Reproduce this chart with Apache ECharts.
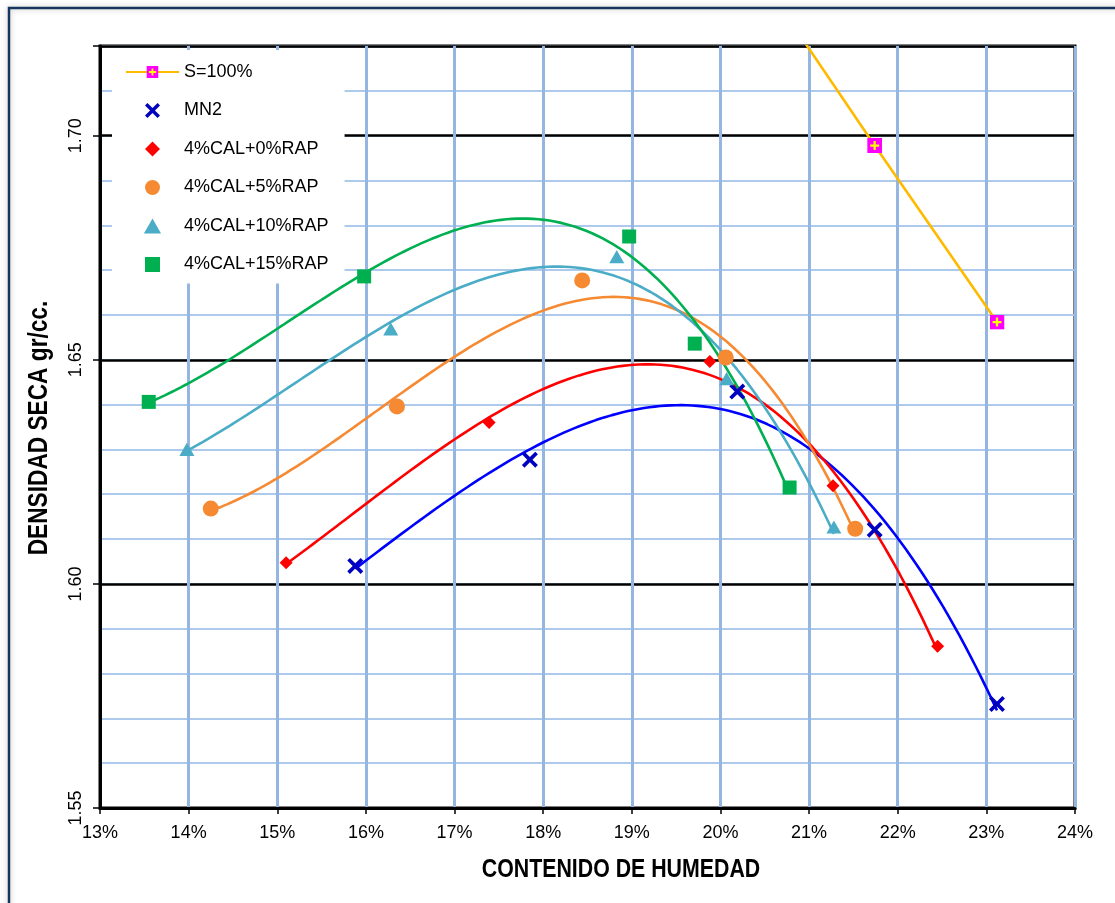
<!DOCTYPE html>
<html>
<head>
<meta charset="utf-8">
<title>Densidad seca vs contenido de humedad</title>
<script src="https://cdn.jsdelivr.net/npm/echarts@6/dist/echarts.min.js"></script>
<style>
  html, body { margin: 0; padding: 0; background: #ffffff; }
  #chart { width: 1115px; height: 903px; }
</style>
</head>
<body>
<div id="chart"></div>
<script>
// Moisture content (%) and dry density (gr/cc) for each mix
const sat100W = [20.19, 21.74, 23.12];
const sat100D = [1.743, 1.6978, 1.6584];

const mn2W = [15.88, 17.85, 20.19, 21.74, 23.12];
const mn2D = [1.6040, 1.6277, 1.6429, 1.6121, 1.5732];

const cal0W = [15.10, 17.39, 19.88, 21.27, 22.45];
const cal0D = [1.6047, 1.6360, 1.6496, 1.6219, 1.5861];

const cal5W = [14.25, 16.35, 18.44, 20.06, 21.52];
const cal5D = [1.6168, 1.6396, 1.6677, 1.6505, 1.6123];

const cal10W = [13.98, 16.28, 18.83, 20.07, 21.28];
const cal10D = [1.6300, 1.6569, 1.6730, 1.6458, 1.6127];

const cal15W = [13.55, 15.98, 18.97, 19.71, 20.78];
const cal15D = [1.6406, 1.6686, 1.6775, 1.6536, 1.6215];

const seriesNames = ['S=100%', 'MN2', '4%CAL+0%RAP', '4%CAL+5%RAP', '4%CAL+10%RAP', '4%CAL+15%RAP'];
const xTitle = 'CONTENIDO DE HUMEDAD';
const yTitle = 'DENSIDAD SECA gr/cc.';
const xTicks = { min: 13, max: 24, step: 1 };
const yTicks = { min: 1.55, max: 1.72, major: 0.05, minor: 0.01 };

// Least-squares polynomial trendline (order 3) through a set of points
function polyFit(xs, ys, order) {
  const n = order + 1;
  const xm = xs.reduce((a, b) => a + b, 0) / xs.length;
  const A = [];
  for (let i = 0; i < n; i++) { A.push(new Array(n + 1).fill(0)); }
  for (let k = 0; k < xs.length; k++) {
    const t = xs[k] - xm;
    for (let i = 0; i < n; i++) {
      for (let j = 0; j < n; j++) A[i][j] += Math.pow(t, i + j);
      A[i][n] += ys[k] * Math.pow(t, i);
    }
  }
  for (let c = 0; c < n; c++) {
    let p = c;
    for (let r = c + 1; r < n; r++) if (Math.abs(A[r][c]) > Math.abs(A[p][c])) p = r;
    [A[c], A[p]] = [A[p], A[c]];
    for (let r = 0; r < n; r++) {
      if (r === c) continue;
      const f = A[r][c] / A[c][c];
      for (let j = c; j <= n; j++) A[r][j] -= f * A[c][j];
    }
  }
  const coef = A.map((row, i) => row[n] / row[i]);
  return (x) => coef.reduce((s, a, i) => s + a * Math.pow(x - xm, i), 0);
}

function trendPoints(xs, ys) {
  const f = polyFit(xs, ys, 3);
  const lo = Math.min(...xs), hi = Math.max(...xs);
  const pts = [];
  const steps = 120;
  for (let i = 0; i <= steps; i++) {
    const x = lo + (hi - lo) * i / steps;
    pts.push([x, f(x)]);
  }
  return pts;
}

const pairs = (xs, ys) => xs.map((x, i) => [x, ys[i]]);

const SANS = "'Liberation Sans', Arial, sans-serif";

const satSymbol = 'image://data:image/svg+xml;utf8,' + encodeURIComponent(
  "<svg xmlns='http://www.w3.org/2000/svg' width='16' height='16'>" +
  "<rect width='16' height='16' fill='#ff00ff'/>" +
  "<path d='M8 3.2V12.8M3.2 8H12.8' stroke='#ffff00' stroke-width='2.4'/></svg>");
const crossSymbol = 'path://M2.6,0 L8,5.4 L13.4,0 L16,2.6 L10.6,8 L16,13.4 L13.4,16 L8,10.6 L2.6,16 L0,13.4 L5.4,8 L0,2.6 Z';
const diamondSymbol = 'path://M8,0 L16,8 L8,16 L0,8 Z';
const triangleSymbol = 'path://M8,0 L16,14 L0,14 Z';
const squareSymbol = 'path://M0,0 L16,0 L16,16 L0,16 Z';

const mixes = [
  { name: seriesNames[1], xs: mn2W, ys: mn2D, line: '#0000ff', mark: '#0000c0', symbol: crossSymbol, size: 16 },
  { name: seriesNames[2], xs: cal0W, ys: cal0D, line: '#ff0000', mark: '#ff0000', symbol: diamondSymbol, size: 13 },
  { name: seriesNames[3], xs: cal5W, ys: cal5D, line: '#f68a33', mark: '#f68a33', symbol: 'circle', size: 16 },
  { name: seriesNames[4], xs: cal10W, ys: cal10D, line: '#4aacc6', mark: '#4aacc6', symbol: triangleSymbol, size: 15 },
  { name: seriesNames[5], xs: cal15W, ys: cal15D, line: '#00b050', mark: '#00b050', symbol: squareSymbol, size: 14 }
];

const series = [];
mixes.forEach((m) => {
  series.push({
    name: m.name + ' (tendencia)',
    type: 'line',
    data: trendPoints(m.xs, m.ys),
    showSymbol: false,
    lineStyle: { color: m.line, width: 2.6 },
    z: 3,
    silent: true
  });
});
series.push({
  name: seriesNames[0],
  type: 'line',
  data: pairs(sat100W, sat100D),
  symbol: satSymbol,
  symbolSize: 15,
  showAllSymbol: true,
  lineStyle: { color: '#ffba00', width: 2.6 },
  itemStyle: { color: '#ffba00' },
  clip: true,
  z: 4
});
mixes.forEach((m) => {
  series.push({
    name: m.name,
    type: 'scatter',
    data: pairs(m.xs, m.ys),
    symbol: m.symbol,
    symbolSize: m.size,
    symbolKeepAspect: true,
    itemStyle: { color: m.mark, opacity: 1 },
    z: 5
  });
});

const chart = echarts.init(document.getElementById('chart'), null, { renderer: 'canvas' });
chart.setOption({
  animation: false,
  backgroundColor: '#ffffff',
  textStyle: { fontFamily: SANS },
  graphic: [{
    type: 'rect',
    shape: { x: 9, y: 8, width: 1130, height: 920 },
    style: { fill: 'none', stroke: '#17365d', lineWidth: 2.5, shadowBlur: 6, shadowColor: 'rgba(0,0,0,0.25)' },
    z: 100,
    silent: true
  }, {
    // axis titles, set in a condensed bold face
    type: 'text',
    x: 621, y: 870,
    scaleX: 0.82,
    style: { text: xTitle, fontFamily: SANS, fontWeight: 'bold', fontSize: 26, fill: '#000000', align: 'center', verticalAlign: 'middle' },
    z: 50
  }, {
    type: 'text',
    x: 40, y: 428,
    rotation: Math.PI / 2,
    scaleX: 0.84,
    style: { text: yTitle, fontFamily: SANS, fontWeight: 'bold', fontSize: 27, fill: '#000000', align: 'center', verticalAlign: 'middle' },
    z: 50
  }],
  grid: {
    left: 100, top: 46, width: 975, height: 762,
    show: true, borderColor: '#000000', borderWidth: 3, backgroundColor: '#ffffff',
    containLabel: false
  },
  legend: {
    orient: 'vertical',
    left: 112, top: 50,
    padding: [13, 16, 10, 13],
    backgroundColor: '#ffffff',
    itemWidth: 53, itemHeight: 15, itemGap: 20.5,
    data: seriesNames,
    textStyle: { fontFamily: SANS, fontSize: 18, color: '#000000' },
    selectedMode: false,
    z: 10
  },
  xAxis: {
    type: 'value',
    min: xTicks.min, max: xTicks.max, interval: xTicks.step,
    axisLine: { show: true, lineStyle: { color: '#000000', width: 3 } },
    axisTick: { show: true, length: 6, lineStyle: { color: '#000000', width: 1.5 } },
    axisLabel: { formatter: (v) => Math.round(v) + '%', fontFamily: SANS, fontSize: 18, color: '#000000', margin: 16 },
    splitLine: { show: true, lineStyle: { color: '#95b6e0', width: 3 } }
  },
  yAxis: [{
    type: 'value',
    min: yTicks.min, max: yTicks.max, interval: yTicks.minor,
    axisLine: { show: false },
    axisTick: { show: false },
    axisLabel: { show: false },
    splitLine: { show: true, lineStyle: { color: '#adc9ec', width: 2 } }
  }, {
    type: 'value',
    position: 'left',
    min: yTicks.min, max: yTicks.max, interval: yTicks.major,
    axisLine: { show: true, lineStyle: { color: '#000000', width: 3 } },
    axisTick: { show: true, length: 7, lineStyle: { color: '#000000', width: 1.5 } },
    axisLabel: {
      rotate: 90, margin: 15,
      fontFamily: SANS, fontSize: 18, color: '#000000',
      formatter: (v) => {
        const r = Math.round(v * 100) / 100;
        return Math.abs(r * 20 - Math.round(r * 20)) < 1e-6 ? r.toFixed(2) : '';
      }
    },
    splitLine: { show: true, lineStyle: { color: '#000000', width: 2.5 } }
  }],
  series: series.map((s) => Object.assign({ yAxisIndex: 0 }, s))
});
</script>
</body>
</html>
